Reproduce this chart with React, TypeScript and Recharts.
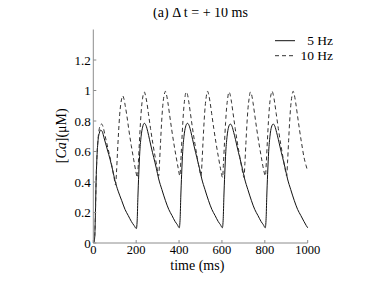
import { LineChart, Line, XAxis, YAxis, Legend } from 'recharts'

const xTicks = [0, 200, 400, 600, 800, 1000]
const yTicks = [0, 0.2, 0.4, 0.6, 0.8, 1, 1.2]

// 5 Hz pairing (solid line)
const time5Hz = [
  0, 4, 7, 10, 13, 17, 22, 28, 34, 42, 50, 58, 66, 78, 90, 101, 116, 132, 148, 163, 178, 190, 201,
  205, 208, 212, 217, 223, 230, 238, 246, 254, 262, 270, 282, 294, 305, 320, 336, 352, 367, 382, 392, 401,
  405, 408, 412, 417, 423, 430, 439, 447, 455, 463, 471, 483, 495, 506, 521, 537, 553, 568, 583, 593, 602,
  606, 609, 613, 618, 624, 631, 639, 647, 655, 663, 671, 683, 695, 706, 721, 737, 753, 768, 783, 793, 802,
  806, 809, 813, 818, 824, 831, 839, 847, 855, 863, 871, 883, 895, 906, 921, 937, 953, 968, 983, 993, 1000,
]
const ca5Hz = [
  0, 0.01, 0.05, 0.2, 0.4, 0.56, 0.67, 0.72, 0.74, 0.73, 0.69, 0.65, 0.61, 0.55, 0.48, 0.41, 0.34, 0.28, 0.22, 0.18, 0.14, 0.115, 0.095,
  0.16, 0.3, 0.45, 0.6, 0.7, 0.76, 0.785, 0.77, 0.73, 0.68, 0.63, 0.56, 0.49, 0.42, 0.35, 0.28, 0.22, 0.18, 0.14, 0.12, 0.1,
  0.16, 0.3, 0.45, 0.6, 0.7, 0.76, 0.785, 0.77, 0.73, 0.68, 0.63, 0.56, 0.49, 0.42, 0.35, 0.28, 0.22, 0.18, 0.14, 0.12, 0.1,
  0.16, 0.3, 0.45, 0.6, 0.7, 0.76, 0.78, 0.765, 0.725, 0.68, 0.63, 0.56, 0.49, 0.42, 0.35, 0.28, 0.22, 0.18, 0.14, 0.12, 0.1,
  0.16, 0.3, 0.45, 0.6, 0.7, 0.76, 0.78, 0.765, 0.725, 0.68, 0.63, 0.56, 0.49, 0.42, 0.35, 0.28, 0.22, 0.18, 0.14, 0.115, 0.1,
]

// 10 Hz pairing (dashed line)
const time10Hz = [
  0, 4, 7, 10, 13, 17, 22, 28, 34, 39, 46, 54, 62, 70, 80, 90, 98, 104,
  108, 113, 118, 123, 128, 133, 137, 142, 149, 156, 166, 177, 188, 197, 206,
  210, 215, 220, 225, 230, 235, 238, 243, 250, 257, 267, 278, 289, 298, 305,
  309, 314, 319, 324, 329, 333, 336, 341, 348, 355, 365, 376, 387, 396, 404,
  408, 413, 418, 423, 428, 431, 434, 439, 446, 453, 463, 474, 485, 494, 503,
  507, 512, 517, 522, 527, 530, 533, 538, 545, 552, 562, 573, 584, 593, 603,
  607, 612, 617, 622, 627, 630, 633, 638, 645, 652, 662, 673, 684, 693, 703,
  707, 712, 717, 722, 727, 730, 733, 738, 745, 752, 762, 773, 784, 793, 803,
  807, 812, 817, 822, 827, 831, 834, 839, 846, 853, 863, 874, 885, 894, 902,
  906, 911, 916, 921, 926, 929, 932, 937, 944, 951, 961, 972, 983, 992, 1000,
]
const ca10Hz = [
  0, 0.01, 0.05, 0.2, 0.4, 0.57, 0.68, 0.75, 0.775, 0.78, 0.76, 0.71, 0.66, 0.61, 0.55, 0.48, 0.42, 0.38,
  0.46, 0.6, 0.73, 0.84, 0.91, 0.95, 0.965, 0.95, 0.9, 0.84, 0.74, 0.64, 0.55, 0.48, 0.43,
  0.52, 0.66, 0.79, 0.89, 0.95, 0.985, 0.99, 0.97, 0.92, 0.85, 0.75, 0.65, 0.56, 0.49, 0.44,
  0.53, 0.67, 0.8, 0.9, 0.96, 0.985, 0.995, 0.975, 0.92, 0.85, 0.75, 0.65, 0.56, 0.49, 0.44,
  0.53, 0.67, 0.8, 0.9, 0.96, 0.985, 0.99, 0.975, 0.92, 0.85, 0.75, 0.65, 0.56, 0.49, 0.44,
  0.53, 0.67, 0.8, 0.9, 0.96, 0.985, 0.995, 0.975, 0.92, 0.85, 0.75, 0.65, 0.56, 0.49, 0.43,
  0.52, 0.66, 0.79, 0.89, 0.95, 0.98, 0.99, 0.975, 0.92, 0.85, 0.75, 0.65, 0.56, 0.49, 0.43,
  0.52, 0.66, 0.79, 0.89, 0.95, 0.98, 0.99, 0.975, 0.92, 0.85, 0.75, 0.65, 0.56, 0.49, 0.44,
  0.53, 0.67, 0.8, 0.9, 0.96, 0.985, 0.995, 0.975, 0.92, 0.85, 0.75, 0.65, 0.56, 0.49, 0.44,
  0.53, 0.67, 0.8, 0.9, 0.96, 0.985, 0.995, 0.975, 0.92, 0.85, 0.75, 0.65, 0.56, 0.51, 0.47,
]

const data5Hz = time5Hz.map((t, i) => ({ t, ca: ca5Hz[i] }))
const data10Hz = time10Hz.map((t, i) => ({ t, ca: ca10Hz[i] }))

const serif = 'Liberation Serif'
const axisGray = '#8c8c8c'

function Header() {
  return (
    <svg width={374} height={70} style={{ fontFamily: serif, overflow: 'visible', display: 'block' }}>
      <text x={192.5} y={9.3} textAnchor="middle" fontSize={14} fontFamily={serif} fill="#000">
        (a) Δ t = + 10 ms
      </text>
      <line x1={267} x2={287} y1={32.7} y2={32.7} stroke="#111" strokeWidth={1} />
      <text x={325} y={37} textAnchor="end" fontSize={13.5} fontFamily={serif} fill="#000">5 Hz</text>
      <line x1={267} x2={287} y1={47.7} y2={47.7} stroke="#333" strokeWidth={1} strokeDasharray="4 3" />
      <text x={325} y={51.7} textAnchor="end" fontSize={13.5} fontFamily={serif} fill="#000">10 Hz</text>
    </svg>
  )
}

function YLabel() {
  return (
    <text transform="translate(54.5,127.8) rotate(-90)" dy="0.23em" textAnchor="middle"
      fontSize={14} fontFamily={serif} fill="#000">
      [<tspan fontStyle="italic">Ca</tspan>](μM)
    </text>
  )
}

function XLabel() {
  return (
    <text x={189.3} y={261.5} textAnchor="middle" fontSize={14} fontFamily={serif} fill="#000">
      time (ms)
    </text>
  )
}

export default function App() {
  return (
    <div style={{ position: 'relative', width: 374, height: 278, fontFamily: serif }}>
      <LineChart width={374} height={278} margin={{ top: 21.5, right: 74.3, bottom: 13, left: 40.3 }}>
        <XAxis
          dataKey="t"
          type="number"
          domain={[0, 1000]}
          ticks={xTicks}
          height={30}
          axisLine={{ stroke: axisGray }}
          tickLine={{ stroke: axisGray }}
          tickSize={-3}
          tickMargin={5.5}
          tick={{ fontSize: 12.5, fontFamily: serif, fill: '#000' }}
          label={<XLabel />}
        />
        <YAxis
          type="number"
          domain={[0, 1.4]}
          ticks={yTicks}
          interval={0}
          width={45}
          axisLine={{ stroke: axisGray }}
          tickLine={{ stroke: axisGray }}
          tickSize={-3}
          tickMargin={5.6}
          tick={{ fontSize: 13, fontFamily: serif, fill: '#000' }}
          label={<YLabel />}
        />
        <Legend
          layout="horizontal"
          verticalAlign="middle"
          align="center"
          wrapperStyle={{ left: 0, top: 0, width: 374, height: 70, pointerEvents: 'none' }}
          content={() => <Header />}
        />
        <Line
          data={data5Hz}
          dataKey="ca"
          type="monotone"
          stroke="#111"
          strokeWidth={1}
          dot={false}
          isAnimationActive={false}
          name="5 Hz"
        />
        <Line
          data={data10Hz}
          dataKey="ca"
          type="monotone"
          stroke="#333"
          strokeWidth={1}
          strokeDasharray="4 3"
          dot={false}
          isAnimationActive={false}
          name="10 Hz"
        />
      </LineChart>
    </div>
  )
}
